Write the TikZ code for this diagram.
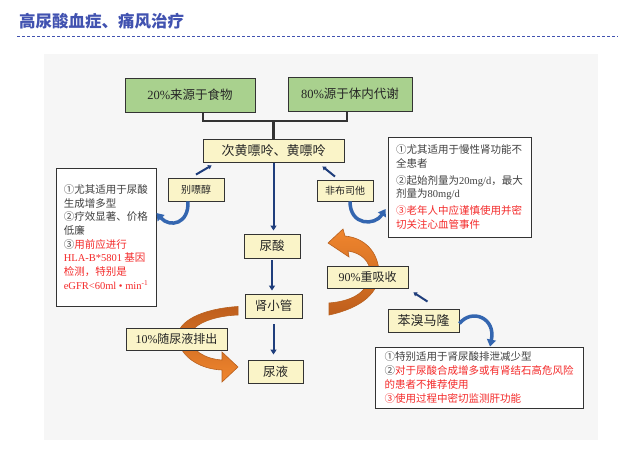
\documentclass[tikz,border=0pt]{standalone}
\usepackage{fontspec}
\setmainfont{Noto Sans CJK SC}
\newfontfamily\latfont{Liberation Serif}
\newcommand{\lat}[1]{{\latfont #1}}
\usetikzlibrary{arrows.meta,shadows,calc}
\definecolor{titleblue}{HTML}{4152B0}
\definecolor{panelgray}{HTML}{F6F6F6}
\definecolor{greenfill}{HTML}{A9D18E}
\definecolor{beige}{HTML}{FAF4C8}
\definecolor{edgegray}{HTML}{333333}
\definecolor{txtgray}{HTML}{404040}
\definecolor{txtred}{HTML}{F42A2A}
\definecolor{navy}{HTML}{1F3E7C}
\definecolor{bluearr}{HTML}{3466B0}
\definecolor{orangehi}{HTML}{F0862E}
\definecolor{orangelo}{HTML}{BE5E1C}
\definecolor{orangeedge}{HTML}{B8601E}
\tikzset{
  sbox/.style={draw=edgegray, line width=0.9pt,
    drop shadow={shadow xshift=1.3pt,shadow yshift=-1.3pt,opacity=0.45},
    inner sep=0pt, text=black!85},
  greenbox/.style={sbox, fill=greenfill, font=\fontsize{12.5}{14}\selectfont},
  beigebox/.style={sbox, fill=beige},
  notebox/.style={sbox, fill=white, align=left, text=txtgray,
    font=\fontsize{10.5}{13.7}\selectfont},
  navyarrow/.style={draw=navy, line width=2pt, -{Triangle[length=5pt,width=6pt]}},
  navyline/.style={draw=navy, line width=2pt, -{Triangle[length=3.5pt,width=4.5pt]}},
  bluecurve/.style={draw=bluearr, line width=3.5pt, -{Triangle[length=7pt,width=9pt]}},
  bracketline/.style={draw=edgegray, line width=1.4pt},
  orangearrow/.style={draw=orangeedge, line width=0.6pt},
}
\begin{document}
\begin{tikzpicture}[x=1pt,y=-1pt]
\useasboundingbox (0,0) rectangle (635,449);
% title
\node[anchor=west, font=\fontsize{16.5}{18}\selectfont\bfseries, text=titleblue, inner sep=0pt] (title) at (19,21) {高尿酸血症、痛风治疗};
\coordinate (dl) at (17,37);
\coordinate (dr) at (618,37);
\draw[titleblue, line width=1pt, dash pattern=on 3pt off 2pt] (dl) -- (dr);
% panel
\fill[panelgray] (44,54) rectangle (598,440);

% orange arrows
\shade[orangearrow, top color=orangehi, bottom color=orangelo]
  (329,315) .. controls (362,308) and (380,292) .. (379,272)
  .. controls (378,252) and (365,238) .. (345,236)
  -- (343,229) -- (328,243) -- (349,257) -- (348,251)
  .. controls (362,253) and (370,262) .. (370,272)
  .. controls (370,290) and (355,301) .. (329,303) -- cycle;
\shade[orangearrow, top color=orangelo, bottom color=orangehi]
  (238,306.5) .. controls (200,309) and (178,322) .. (178,336)
  .. controls (178,355) and (198,369) .. (222,370)
  -- (222,382) -- (238,367) -- (222,352) -- (222,360)
  .. controls (205,359) and (190,350) .. (190,337)
  .. controls (190,326) and (210,316) .. (238,315) -- cycle;

% top boxes
\node[greenbox, minimum width=130pt, minimum height=34pt] (food) at (190,95) {\lat{20\%}来源于食物};
\node[greenbox, minimum width=124pt, minimum height=34pt] (meta) at (350,94) {\lat{80\%}源于体内代谢};

\node[beigebox, minimum width=141pt, minimum height=23pt, font=\fontsize{13}{15}\selectfont] (xan) at (273.5,150.5) {次黄嘌呤、黄嘌呤};

% bracket
\coordinate (bl) at (203,121);
\coordinate (br) at (347,121);
\draw[bracketline] (bl |- food.south) -- (bl) -- (br) -- (br |- meta.south);
\draw[edgegray, line width=3pt] (xan.north |- bl) -- (xan.north);

% drug boxes
\node[beigebox, minimum width=56pt, minimum height=23pt, font=\fontsize{10}{12}\selectfont] (allo) at (196,189.5) {别嘌醇};
\node[beigebox, minimum width=56pt, minimum height=21pt, font=\fontsize{10}{12}\selectfont] (febu) at (345,190.5) {非布司他};

% main chain
\node[beigebox, minimum width=56pt, minimum height=24pt, font=\fontsize{12.5}{14}\selectfont] (ua) at (272,246) {尿酸};
\node[beigebox, minimum width=57pt, minimum height=24pt, font=\fontsize{12.5}{14}\selectfont] (tub) at (273.5,306) {肾小管};
\node[beigebox, minimum width=55pt, minimum height=23pt, font=\fontsize{12.5}{14}\selectfont] (urine) at (275.5,371.5) {尿液};
\node[beigebox, minimum width=81pt, minimum height=22pt, font=\fontsize{12}{14}\selectfont] (reab) at (367.5,277) {\lat{90\%}重吸收};
\node[beigebox, minimum width=101pt, minimum height=22pt, font=\fontsize{12}{14}\selectfont] (excr) at (176.5,339) {\lat{10\%}随尿液排出};
\node[beigebox, minimum width=71pt, minimum height=23pt, font=\fontsize{13}{15}\selectfont] (benz) at (423.5,320.5) {苯溴马隆};

\draw[navyarrow] ([yshift=-1pt]xan.south) -- ([yshift=3pt]xan.south |- ua.north);
\draw[navyarrow] ([yshift=-2pt]ua.south) -- ([yshift=3pt]ua.south |- tub.north);
\draw[navyarrow] ([yshift=-6pt]tub.south) -- ([yshift=5pt]tub.south |- urine.north);

\draw[navyline] ([yshift=3pt]allo.north) -- ([xshift=9pt,yshift=-3pt]xan.south west);
\draw[navyline] ([xshift=-10pt,yshift=3pt]febu.north) -- ([xshift=-22pt,yshift=-4pt]xan.south east);
\draw[navyline] ([xshift=4pt,yshift=7pt]benz.north) -- ([xshift=5pt,yshift=-4pt]reab.south east);

% note boxes
\node[notebox, minimum width=100pt, minimum height=138pt] (lbox) at (106,237)
 {①尤其适用于尿酸\\生成增多型\\②疗效显著、价格\\低廉\\③\textcolor{txtred}{用前应进行}\\
  \textcolor{txtred}{\lat{HLA-B*5801} 基因}\\\textcolor{txtred}{检测，特别是}\\
  \textcolor{txtred}{\lat{eGFR<60ml • min\textsuperscript{-1}}}};
\node[notebox, minimum width=143pt, minimum height=100pt] (rbox) at (459.5,187)
 {①尤其适用于慢性肾功能不\\全患者\\[3pt]②起始剂量为\lat{20mg/d}，最大\\剂量为\lat{80mg/d}\\[3pt]
  \textcolor{txtred}{③老年人中应谨慎使用并密}\\\textcolor{txtred}{切关注心血管事件}};
\node[notebox, minimum width=208pt, minimum height=61pt] (bbox) at (479,377.5)
 {①特别适用于肾尿酸排泄减少型\\②\textcolor{txtred}{对于尿酸合成增多或有肾结石高危风险}\\
  \textcolor{txtred}{的患者不推荐使用}\\\textcolor{txtred}{③使用过程中密切监测肝功能}};

% blue curved arrows
\draw[bluecurve] ([xshift=-8pt]allo.south) .. controls (189,224) and (170,228) .. (lbox.east |- 0,213);
\draw[bluecurve] ([xshift=5pt]febu.south) .. controls (350,226) and (375,226) .. ([xshift=-2pt]rbox.west |- 0,209);
\draw[bluecurve] ([yshift=-3pt]benz.east) .. controls (472,308) and (496,318) .. ([xshift=11pt]bbox.north);
\end{tikzpicture}
\end{document}
